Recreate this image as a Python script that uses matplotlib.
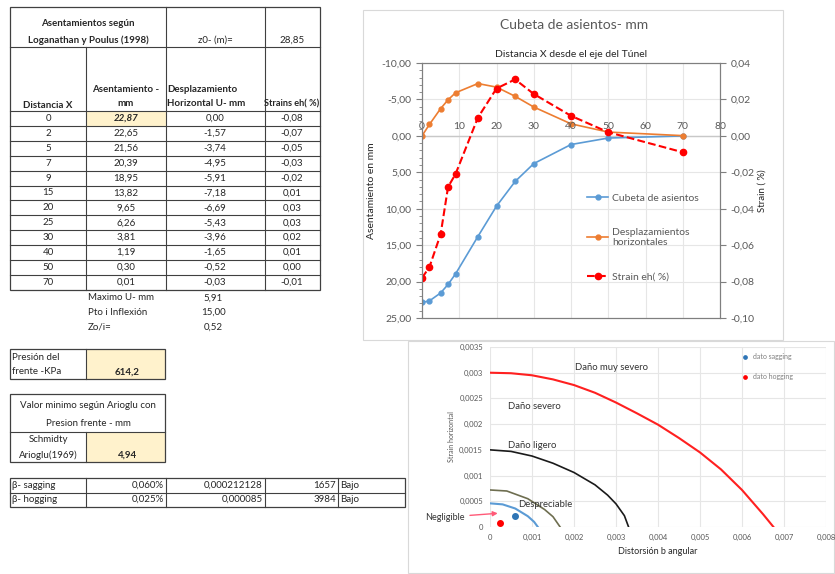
import matplotlib.pyplot as plt
from matplotlib.patches import Rectangle
from matplotlib.ticker import FuncFormatter, MultipleLocator

plt.rcParams['font.family'] = ['Lato', 'DejaVu Sans']

W, H = 835, 574

# --- data: Loganathan y Poulus table / settlement trough ---
dist = [0, 2, 5, 7, 9, 15, 20, 25, 30, 40, 50, 70]
asent = [22.87, 22.65, 21.56, 20.39, 18.95, 13.82, 9.65, 6.26, 3.81, 1.19, 0.30, 0.01]
desp = [0.00, -1.57, -3.74, -4.95, -5.91, -7.18, -6.69, -5.43, -3.96, -1.65, -0.52, -0.03]
strain = [-0.078, -0.072, -0.054, -0.028, -0.021, 0.010, 0.026, 0.031, 0.023, 0.011, 0.002, -0.009]

z0 = 28.85
extra_labels = ['Maximo U- mm', 'Pto i Inflexión', 'Zo/i=']
extra_values = [5.91, 15.00, 0.52]
presion = 614.2
arioglu = 4.94

beta_labels = ['β- sagging', 'β- hogging']
beta_pct = [0.060, 0.025]
strain_lim = [0.000212128, 0.000085]
radio = [1657, 3984]
nivel = ['Bajo', 'Bajo']

# --- damage chart boundaries ---
red_x = [0, 0.0005, 0.001, 0.0015, 0.002, 0.0025, 0.003, 0.0035, 0.004, 0.0045, 0.005, 0.0055, 0.006, 0.0065, 0.00675]
red_y = [0.003, 0.00299, 0.00295, 0.00287, 0.00276, 0.00261, 0.00242, 0.00221, 0.00199, 0.00173, 0.00145, 0.00112, 0.00072, 0.00025, 0]
blk_x = [0, 0.0005, 0.001, 0.0015, 0.002, 0.0025, 0.0028, 0.003, 0.0032, 0.0033]
blk_y = [0.0015, 0.00147, 0.00138, 0.00124, 0.00106, 0.00082, 0.00062, 0.00045, 0.00022, 0]
olv_x = [0, 0.0004, 0.0009, 0.0013, 0.0015, 0.00167]
olv_y = [0.00072, 0.0007, 0.00055, 0.00034, 0.0002, 0]
blu_x = [0, 0.0003, 0.0006, 0.0009, 0.00105, 0.00114]
blu_y = [0.00046, 0.00044, 0.00036, 0.00021, 0.0001, 0]
zones = ['Daño muy severo', 'Daño severo', 'Daño ligero', 'Despreciable']
zone_pos = [(0.00202, 0.00311), (0.00043, 0.00235), (0.00043, 0.00158), (0.00067, 0.00043)]


def box(l, t, r, b):
    return [l / W, 1 - b / H, (r - l) / W, (b - t) / H]


def coma(v, nd=2):
    s = f"{v:.{nd}f}".replace('.', ',')
    if s == '-0,' + '0' * nd:
        s = s[1:]
    return s


fig = plt.figure(figsize=(W / 100, H / 100), dpi=100)

# sheet layer in pixel coordinates
sh = fig.add_axes([0, 0, 1, 1])
sh.set_xlim(0, W)
sh.set_ylim(H, 0)
sh.axis('off')

fs = 7
tc = '#262626'
lc = '#404040'


def hl(y, x0, x1):
    sh.plot([x0, x1], [y, y], color=lc, lw=0.8)


def vl(x, y0, y1):
    sh.plot([x, x], [y0, y1], color=lc, lw=0.8)


# main table
top, h1, h2, rowh = 7, 47, 111, 14.9
bot = h2 + rowh * len(dist)
sh.add_patch(Rectangle((86, h2), 80, rowh, fc='#FFF2CC', ec='none'))
sh.add_patch(Rectangle((10, top), 310, bot - top, fill=False, ec=lc, lw=0.9))
hl(h1, 10, 320)
for i in range(len(dist)):
    hl(h2 + rowh * i, 10, 320)
vl(86, h1, bot)
vl(166, top, bot)
vl(265, top, bot)

sh.text(88, 24, 'Asentamientos según', ha='center', va='center', fontsize=fs, color=tc, fontweight='bold')
sh.text(88, 40, 'Loganathan y Poulus (1998)', ha='center', va='center', fontsize=fs, color=tc, fontweight='bold')
sh.text(215, 40, 'z0- (m)=', ha='center', va='center', fontsize=fs, color=tc)
sh.text(292, 40, coma(z0), ha='center', va='center', fontsize=fs, color=tc)
sh.text(48, 105, 'Distancia X', ha='center', va='center', fontsize=fs, color=tc, fontweight='bold')
sh.text(126, 90, 'Asentamiento -', ha='center', va='center', fontsize=fs, color=tc, fontweight='bold')
sh.text(126, 104, 'mm', ha='center', va='center', fontsize=fs, color=tc, fontweight='bold')
sh.text(167, 90, 'Desplazamiento', ha='left', va='center', fontsize=fs, color=tc, fontweight='bold')
sh.text(167, 104, 'Horizontal U- mm', ha='left', va='center', fontsize=fs, color=tc, fontweight='bold')
sh.text(292, 104, 'Strains eh( %)', ha='center', va='center', fontsize=6.6, color=tc, fontweight='bold')

for i in range(len(dist)):
    y = h2 + rowh * (i + 0.5)
    sh.text(48, y, str(dist[i]), ha='center', va='center', fontsize=fs, color=tc)
    if i == 0:
        sh.text(126, y, coma(asent[i]), ha='center', va='center', fontsize=fs, color=tc,
                fontweight='bold', fontstyle='italic')
    else:
        sh.text(126, y, coma(asent[i]), ha='center', va='center', fontsize=fs, color=tc)
    sh.text(215, y, coma(desp[i]), ha='center', va='center', fontsize=fs, color=tc)
    sh.text(292, y, coma(strain[i]), ha='center', va='center', fontsize=fs, color=tc)

for i in range(len(extra_labels)):
    y = 298 + 14.5 * i
    sh.text(88, y, extra_labels[i], ha='left', va='center', fontsize=fs, color=tc)
    sh.text(213, y, coma(extra_values[i]), ha='center', va='center', fontsize=fs, color=tc)

# presion del frente
sh.add_patch(Rectangle((86, 349), 79, 30, fc='#FFF2CC', ec='none'))
sh.add_patch(Rectangle((10, 349), 155, 30, fill=False, ec=lc, lw=0.9))
vl(86, 349, 379)
sh.text(12, 357, 'Presión del', ha='left', va='center', fontsize=fs, color=tc)
sh.text(12, 372, 'frente -KPa', ha='left', va='center', fontsize=fs, color=tc)
sh.text(127, 372, coma(presion, 1), ha='center', va='center', fontsize=fs, color=tc, fontweight='bold')

# Arioglu
sh.add_patch(Rectangle((86, 432), 79, 30, fc='#FFF2CC', ec='none'))
sh.add_patch(Rectangle((10, 394), 155, 68, fill=False, ec=lc, lw=0.9))
hl(432, 10, 165)
vl(86, 432, 462)
sh.text(88, 406, 'Valor minimo según Arioglu con', ha='center', va='center', fontsize=fs, color=tc)
sh.text(88, 423, 'Presion frente - mm', ha='center', va='center', fontsize=fs, color=tc)
sh.text(48, 440, 'Schmidty', ha='center', va='center', fontsize=fs, color=tc)
sh.text(48, 455, 'Arioglu(1969)', ha='center', va='center', fontsize=fs, color=tc)
sh.text(127, 455, coma(arioglu), ha='center', va='center', fontsize=fs, color=tc, fontweight='bold')

# beta table
sh.add_patch(Rectangle((10, 478), 395, 29, fill=False, ec=lc, lw=0.9))
hl(492.5, 10, 405)
for x in [86, 166, 265, 338]:
    vl(x, 478, 507)
for i in range(2):
    y = 485 + 14.5 * i
    sh.text(12, y, beta_labels[i], ha='left', va='center', fontsize=fs, color=tc)
    sh.text(164, y, f"{beta_pct[i]:.3f}%".replace('.', ','), ha='right', va='center', fontsize=fs, color=tc)
    sh.text(263, y, f"{strain_lim[i]:.9f}".rstrip('0').replace('.', ','), ha='right', va='center',
            fontsize=fs, color=tc)
    sh.text(336, y, str(radio[i]), ha='right', va='center', fontsize=fs, color=tc)
    sh.text(340, y, nivel[i], ha='left', va='center', fontsize=fs, color=tc)

# chart frames
sh.add_patch(Rectangle((408, 341), 426, 232, fc='white', ec='#d9d9d9', lw=0.8))
sh.add_patch(Rectangle((363, 10), 420, 330, fc='white', ec='#d9d9d9', lw=0.8))

# --- top chart: Cubeta de asientos ---
gray = '#595959'
ax1 = fig.add_axes(box(422, 63, 720, 318))
ax1.set_xlim(0, 80)
ax1.set_ylim(25, -10)
ax1.set_yticks(range(-10, 26, 5))
ax1.yaxis.set_major_formatter(FuncFormatter(lambda v, p: coma(v)))
ax1.yaxis.set_minor_locator(MultipleLocator(1))
ax1.set_xticks(range(0, 81, 10))
ax1.tick_params(axis='x', length=0, labelbottom=False)
ax1.tick_params(axis='y', which='major', length=4, color='#7f7f7f', labelsize=7.5, labelcolor=gray)
ax1.tick_params(axis='y', which='minor', length=2, color='#7f7f7f')
ax1.grid(True, color='#e6e6e6', lw=0.8)
ax1.set_axisbelow(True)
ax1.axhline(0, color='#c8c8c8', lw=1)
for xv in range(0, 81, 10):
    ax1.text(xv, -0.6, str(xv), ha='center', va='bottom', fontsize=7.5, color=gray)
for s in ax1.spines.values():
    s.set_color('#7f7f7f')
l1, = ax1.plot(dist, asent, color='#5B9BD5', marker='o', ms=3.5, lw=1.2, label='Cubeta de asientos')
l2, = ax1.plot(dist, desp, color='#ED7D31', marker='o', ms=3.5, lw=1.2, label='Desplazamientos\nhorizontales')
ax1.set_ylabel('Asentamiento en mm', fontsize=7.5, color=tc)
ax1.set_title('Distancia X desde el eje del Túnel', fontsize=7.5, color=tc, pad=4)

ax2 = ax1.twinx()
ax2.set_ylim(-0.10, 0.04)
ax2.set_yticks([-0.10, -0.08, -0.06, -0.04, -0.02, 0.0, 0.02, 0.04])
ax2.yaxis.set_major_formatter(FuncFormatter(lambda v, p: coma(v)))
ax2.tick_params(axis='y', length=4, color='#7f7f7f', labelsize=7.5, labelcolor=gray)
for s in ax2.spines.values():
    s.set_color('#7f7f7f')
l3, = ax2.plot(dist, strain, color='#FF0000', ls='--', marker='o', ms=4.5, lw=1.5, label='Strain eh( %)')
ax2.set_ylabel('Strain ( %)', fontsize=7, color=tc, labelpad=2)
ax2.legend(handles=[l1, l2, l3], loc='upper left', bbox_to_anchor=(578 / W, 1 - 184 / H),
           bbox_transform=fig.transFigure, frameon=False, fontsize=7.5, labelspacing=2.4,
           handlelength=2.0, handletextpad=0.4, labelcolor=gray)
fig.text(574 / W, 1 - 25 / H, 'Cubeta de asientos- mm', ha='center', va='center', fontsize=10, color=gray)

# --- bottom chart: damage categories ---
ax3 = fig.add_axes(box(490, 347, 826, 527))
ax3.set_xlim(0, 0.008)
ax3.set_ylim(0, 0.0035)
ax3.set_xticks([i * 0.001 for i in range(9)])
ax3.set_yticks([i * 0.0005 for i in range(8)])
fmt = FuncFormatter(lambda v, p: '0' if abs(v) < 1e-12 else f"{v:g}".replace('.', ','))
ax3.xaxis.set_major_formatter(fmt)
ax3.yaxis.set_major_formatter(fmt)
for s in ax3.spines.values():
    s.set_visible(False)
ax3.grid(True, color='#e6e6e6', lw=0.8)
ax3.set_axisbelow(True)
ax3.tick_params(length=0, labelsize=5.5, labelcolor=gray, pad=5)
ax3.plot(red_x, red_y, color='#FF2020', lw=1.5)
ax3.plot(blk_x, blk_y, color='#1a1a1a', lw=1.2)
ax3.plot(olv_x, olv_y, color='#6e6e50', lw=1.2)
ax3.plot(blu_x, blu_y, color='#5B9BD5', lw=1.5)
for name, (zx, zy) in zip(zones, zone_pos):
    ax3.text(zx, zy, name, fontsize=6.8, color='#333333', va='center')
sag = ax3.scatter([beta_pct[0] / 100], [strain_lim[0]], s=16, color='#2E75B6', label='dato sagging', zorder=3)
hog = ax3.scatter([beta_pct[1] / 100], [strain_lim[1]], s=16, color='#FF0000', label='dato hogging', zorder=3)
ax3.annotate('Negligible', xy=(0.00025, 0.00027), xytext=(-0.00155, 0.00019),
             arrowprops=dict(arrowstyle='-|>', color='#ff5a78', lw=1, mutation_scale=7),
             annotation_clip=False, fontsize=6.5, color='#333333', va='center')
ax3.legend(handles=[sag, hog], loc='upper left', bbox_to_anchor=(732 / W, 1 - 347 / H),
           bbox_transform=fig.transFigure, frameon=False, fontsize=5, labelspacing=1.8,
           handletextpad=0.1, markerscale=0.6, labelcolor='#7f7f7f')
ax3.set_ylabel('Strain horizontal', fontsize=5, color=gray, labelpad=3)
ax3.set_xlabel('Distorsión b angular', fontsize=6.5, color=tc, labelpad=4)

fig.savefig('out.png', dpi=100)
